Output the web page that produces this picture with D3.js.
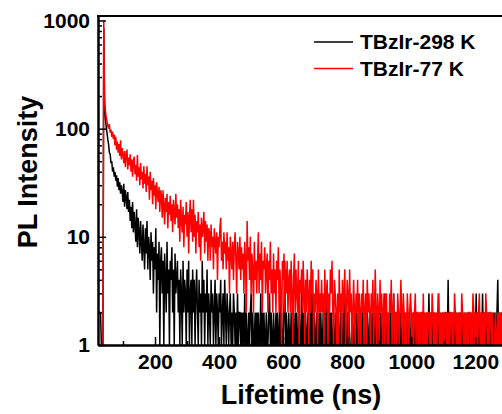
<!DOCTYPE html>
<html>
<head>
<meta charset="utf-8">
<script src="https://cdn.jsdelivr.net/npm/d3@7"></script>
<style>
  body { margin: 0; background: #fff; }
  svg { display: block; font-family: "Liberation Sans", Arial, sans-serif; font-weight: bold; }
</style>
</head>
<body>
<svg id="chart" width="502" height="414"></svg>
<script>
// time channels (ns): first channel and channel width
const t0 = 20;
const dt = 2.5;

// TBzIr-298 K, counts per channel (one row = 50 ns)
const black298 = [
  2, 2, 2, 2, 2, 1, 1, 1, 850, 160, 125, 105, 92, 80, 72, 60, 58, 48, 50, 40,
  44, 36, 40, 33, 37, 29, 35, 27, 32, 25, 30, 26, 21, 31, 19, 27, 23, 18, 26, 17,
  22, 14, 19, 12, 21, 11, 17, 13, 9, 18, 8, 15, 11, 7, 14, 9, 6, 13, 8, 5,
  12, 7, 14, 5, 10, 8, 4, 11, 6, 9, 3, 8, 5, 12, 2, 7, 4, 9, 1, 6,
  8, 3, 6, 1, 7, 4, 2, 9, 3, 5, 1, 6, 4, 8, 2, 5, 1, 7, 3, 4,
  6, 2, 4, 1, 5, 3, 1, 6, 2, 4, 3, 1, 5, 2, 6, 1, 3, 4, 1, 5,
  2, 4, 1, 3, 5, 2, 1, 4, 2, 3, 1, 6, 2, 4, 1, 3, 2, 5, 1, 3,
  2, 1, 4, 2, 3, 1, 2, 4, 1, 3, 2, 1, 3, 2, 4, 1, 2, 3, 1, 4,
  2, 1, 3, 2, 1, 2, 3, 1, 2, 1, 3, 2, 1, 2, 1, 3, 1, 2, 2, 1,
  2, 1, 2, 1, 3, 1, 2, 1, 1, 2, 1, 2, 3, 1, 2, 1, 1, 2, 1, 2,
  1, 2, 1, 1, 3, 1, 2, 1, 2, 1, 1, 2, 1, 1, 2, 3, 1, 2, 1, 1,
  2, 1, 1, 2, 1, 2, 1, 1, 3, 1, 2, 1, 1, 2, 6, 1, 2, 1, 1, 2,
  1, 1, 2, 1, 3, 1, 1, 2, 1, 2, 1, 1, 2, 1, 1, 3, 1, 2, 1, 1,
  2, 1, 1, 2, 1, 1, 2, 1, 3, 1, 1, 2, 1, 1, 2, 1, 1, 2, 1, 2,
  1, 1, 2, 1, 1, 2, 1, 3, 1, 1, 2, 1, 2, 1, 1, 2, 1, 1, 2, 1,
  1, 2, 1, 1, 2, 1, 1, 2, 1, 3, 1, 1, 2, 1, 2, 1, 1, 1, 2, 1,
  1, 2, 1, 1, 2, 1, 1, 2, 1, 1, 2, 1, 3, 1, 2, 1, 1, 2, 1, 1,
  2, 1, 1, 2, 1, 1, 2, 1, 2, 1, 1, 2, 1, 1, 2, 1, 1, 2, 1, 3,
  1, 1, 2, 1, 1, 2, 1, 2, 1, 1, 3, 1, 2, 1, 1, 2, 1, 1, 2, 1,
  1, 2, 1, 1, 2, 1, 1, 2, 1, 2, 1, 1, 2, 1, 1, 2, 1, 2, 1, 1,
  2, 1, 1, 2, 1, 2, 1, 1, 2, 1, 1, 2, 1, 1, 3, 1, 2, 1, 1, 2,
  1, 2, 1, 1, 2, 1, 3, 1, 2, 1, 1, 2, 1, 2, 1, 1, 2, 1, 4, 1,
  2, 1, 1, 2, 1, 2, 1, 1, 2, 1, 1, 2, 1, 2, 1, 1, 2, 1, 1, 2,
  1, 1, 2, 1, 2, 1, 1, 2, 1, 1, 2, 1, 1, 3, 1, 2, 1, 1, 2, 1,
  1, 3, 1, 2, 1, 1, 2, 1, 2, 1, 1, 2, 1, 1, 2, 1, 2, 1, 1, 2,
  4, 1, 1, 2, 1, 2, 1, 1, 2, 1, 2, 1, 1
];

// TBzIr-77 K
const red77 = [
  1, 1, 1, 1, 1, 1, 1, 1, 1000, 190, 150, 128, 118, 106, 100, 110, 92, 98, 84, 94,
  80, 88, 70, 84, 64, 76, 60, 72, 56, 78, 52, 66, 58, 48, 62, 44, 56, 64, 42, 54,
  46, 58, 40, 52, 36, 50, 55, 38, 46, 33, 57, 36, 44, 30, 48, 34, 40, 28, 45, 31,
  38, 26, 45, 30, 36, 22, 40, 27, 33, 20, 35, 24, 30, 18, 32, 25, 21, 29, 17, 27,
  24, 15, 27, 19, 13, 23, 17, 25, 12, 21, 16, 24, 14, 20, 11, 22, 17, 13, 25, 15,
  20, 12, 18, 9, 22, 14, 11, 19, 8, 16, 13, 21, 10, 17, 7, 15, 22, 11, 18, 9,
  22, 10, 16, 7, 14, 11, 17, 8, 13, 6, 15, 10, 12, 17, 7, 14, 9, 13, 6, 12,
  11, 6, 13, 8, 10, 5, 12, 9, 7, 11, 4, 10, 8, 12, 15, 6, 9, 5, 11, 7,
  9, 5, 11, 6, 8, 3, 10, 7, 5, 9, 4, 8, 11, 6, 3, 9, 7, 5, 10, 4,
  8, 5, 7, 3, 9, 6, 2, 14, 6, 8, 4, 10, 3, 7, 5, 2, 9, 4, 6, 3,
  6, 11, 3, 7, 4, 9, 2, 6, 5, 8, 3, 5, 7, 2, 6, 4, 9, 3, 5, 2,
  7, 3, 5, 2, 6, 4, 8, 2, 5, 3, 1, 6, 4, 7, 2, 5, 3, 6, 2, 4,
  5, 2, 6, 3, 1, 4, 7, 2, 5, 3, 2, 6, 1, 4, 3, 5, 2, 6, 3, 1,
  4, 2, 5, 3, 1, 4, 2, 6, 3, 5, 1, 3, 2, 4, 3, 1, 5, 2, 3, 2,
  4, 2, 3, 1, 5, 2, 3, 4, 1, 3, 2, 5, 3, 6, 2, 1, 4, 3, 2, 1,
  3, 1, 5, 2, 3, 1, 4, 2, 3, 5, 1, 2, 4, 3, 1, 5, 2, 3, 1, 2,
  4, 2, 1, 3, 2, 4, 1, 3, 2, 1, 3, 2, 4, 1, 2, 3, 1, 4, 2, 3,
  2, 1, 3, 2, 4, 1, 2, 5, 2, 1, 3, 2, 1, 4, 2, 3, 1, 2, 3, 1,
  2, 3, 1, 2, 1, 3, 2, 4, 1, 2, 3, 1, 2, 2, 1, 3, 2, 1, 2, 4,
  2, 1, 3, 2, 1, 2, 1, 3, 2, 1, 2, 3, 2, 1, 2, 1, 2, 3, 1, 2,
  2, 1, 2, 1, 2, 2, 1, 3, 1, 2, 1, 2, 1, 2, 2, 1, 2, 1, 3, 2,
  1, 2, 1, 2, 1, 2, 3, 1, 2, 1, 2, 1, 2, 1, 2, 2, 1, 2, 1, 2,
  1, 2, 2, 1, 2, 1, 3, 2, 1, 2, 1, 2, 1, 2, 1, 3, 2, 1, 2, 1,
  2, 1, 2, 1, 2, 2, 1, 2, 1, 3, 2, 1, 2, 1, 2, 1, 2, 3, 1, 2,
  1, 2, 1, 2, 1, 3, 2, 1, 2, 1, 2, 2, 1, 2, 1, 1, 1, 2, 1, 1,
  2, 1, 2, 1, 2, 1, 2, 2, 1, 2, 1, 2, 1
];

const seriesNames = ['TBzIr-298 K', 'TBzIr-77 K'];
const seriesColors = ['#000000', '#ff0000'];
const xTicks = [200, 400, 600, 800, 1000, 1200];
const xMinorTicks = [100, 300, 500, 700, 900, 1100, 1300];
const yTicks = [1, 10, 100, 1000];

/**
 * layout of the plot
 */
const cs = {
  left: 98,
  right: 517,
  top: 16,
  bottom: 345,
  x: { domain: [22, 1330], label: 'Lifetime (ns)' },
  y: { domain: [1, 1100], label: 'PL Intensity' },
};

const svg = d3.select('#chart');
svg.append('rect').attr('width', 502).attr('height', 414).attr('fill', '#fff');

const x = d3.scaleLinear().domain(cs.x.domain).range([cs.left, cs.right]);
const y = d3.scaleLog().domain(cs.y.domain).range([cs.bottom, cs.top]);

const toPoints = vals => vals.map((v, i) => ({ t: t0 + i * dt, v }));

svg.append('clipPath').attr('id', 'plot-clip')
  .append('rect')
  .attr('x', cs.left).attr('y', cs.top)
  .attr('width', cs.right - cs.left).attr('height', cs.bottom - cs.top);

const line = d3.line().x(d => x(d.t)).y(d => y(d.v));

const plot = svg.append('g').attr('clip-path', 'url(#plot-clip)');
[black298, red77].forEach((vals, i) => {
  plot.append('path')
    .datum(toPoints(vals))
    .attr('fill', 'none')
    .attr('stroke', seriesColors[i])
    .attr('stroke-width', 1.5)
    .attr('d', line);
});

// minor ticks: 2..9 in each decade
const yMinorTicks = [];
[1, 10, 100].forEach(d => { for (let k = 2; k <= 9; k++) yMinorTicks.push(d * k); });

const styleAxis = (g) => {
  g.selectAll('path.domain').attr('stroke', '#000').attr('stroke-width', 2);
  g.selectAll('.tick line').attr('stroke', '#000').attr('stroke-width', 1.5);
  g.selectAll('.tick text')
    .attr('fill', '#000')
    .attr('font-size', 21)
    .attr('font-weight', 'bold')
    .attr('font-family', '"Liberation Sans", Arial, sans-serif');
};

svg.append('g')
  .attr('transform', `translate(0,${cs.bottom})`)
  .call(d3.axisBottom(x).tickValues(xMinorTicks).tickSize(-4).tickSizeOuter(0).tickFormat(''))
  .call(styleAxis);
svg.append('g')
  .attr('transform', `translate(0,${cs.bottom})`)
  .call(d3.axisBottom(x).tickValues(xTicks).tickSize(-8).tickSizeOuter(0).tickPadding(9).tickFormat(d3.format('d')))
  .call(styleAxis);

svg.append('g')
  .attr('transform', `translate(${cs.left},0)`)
  .call(d3.axisLeft(y).tickValues(yMinorTicks).tickSize(-4).tickSizeOuter(0).tickFormat(''))
  .call(styleAxis);
svg.append('g')
  .attr('transform', `translate(${cs.left},0)`)
  .call(d3.axisLeft(y).tickValues(yTicks).tickSize(-8).tickSizeOuter(0).tickPadding(8).tickFormat(d3.format('d')))
  .call(styleAxis);

// top frame line
svg.append('line')
  .attr('x1', cs.left - 1).attr('x2', cs.right)
  .attr('y1', cs.top).attr('y2', cs.top)
  .attr('stroke', '#000').attr('stroke-width', 2);

// axis titles
svg.append('text')
  .attr('x', 301).attr('y', 404)
  .attr('text-anchor', 'middle')
  .attr('font-size', 27)
  .text(cs.x.label);
svg.append('text')
  .attr('transform', 'translate(37,172) rotate(-90)')
  .attr('text-anchor', 'middle')
  .attr('font-size', 27)
  .text(cs.y.label);

// legend
const legend = svg.append('g').attr('transform', 'translate(314,42)');
seriesNames.forEach((name, i) => {
  const row = legend.append('g').attr('transform', `translate(0,${i * 26.6})`);
  row.append('line')
    .attr('x1', 0).attr('x2', 39)
    .attr('stroke', seriesColors[i]).attr('stroke-width', 1.5);
  row.append('text')
    .attr('x', 46).attr('y', 0).attr('dy', '0.35em')
    .attr('font-size', 21)
    .text(name);
});
</script>
</body>
</html>
